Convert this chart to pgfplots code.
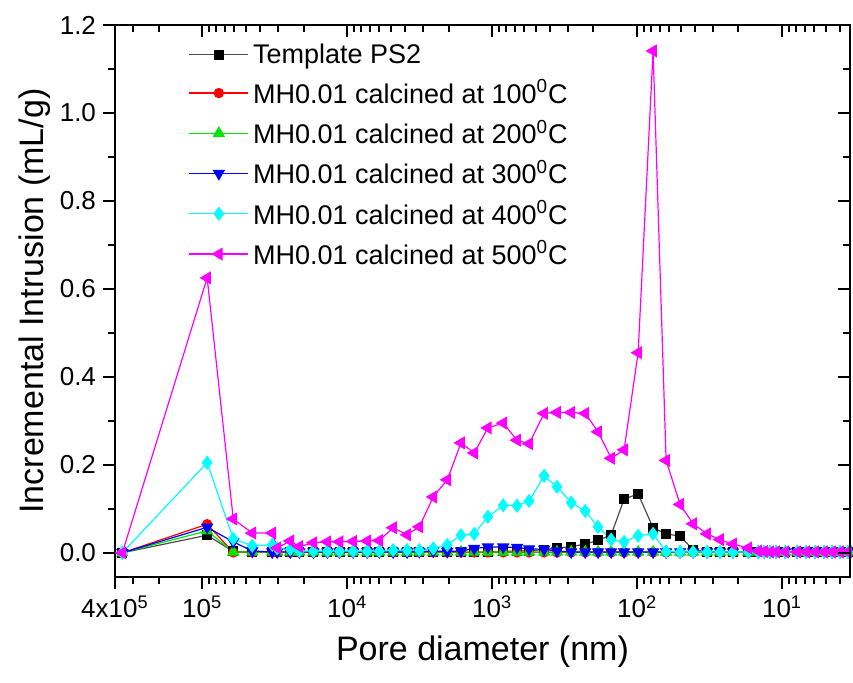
\documentclass[border=0pt]{standalone}
\usepackage{fontspec}
\setmainfont{Liberation Sans}
\usepackage{pgfplots}
\usepackage{pgfplotstable}
\pgfplotsset{compat=1.18}

\definecolor{ored}{RGB}{255,0,0}
\definecolor{ogreen}{RGB}{0,230,0}
\definecolor{oblue}{RGB}{0,0,255}
\definecolor{ocyan}{RGB}{0,255,255}
\definecolor{omag}{RGB}{255,0,255}

% pore diameter (nm) and incremental intrusion (mL/g)
\pgfplotstableread{
x      ps2   t100  t200  t300  t400  t500
356000 0     0     0     0     0     0
92500  0.040 0.065 0.050 0.058 0.205 0.625
61100  0.003 0.001 0.002 0.025 0.032 0.077
45200  0.002 0.001 0.002 0.004 0.016 0.045
32900  0.001 0.001 0.002 0.002 0.018 0.045
30400  0.001 0.001 0.002 0.002 0.010 0.011
24700  0.001 0.001 0.002 0.002 0.008 0.027
21400  0.001 0.001 0.002 0.002 0.004 0.014
17100  0.001 0.001 0.002 0.002 0.004 0.023
13700  0.001 0.001 0.002 0.002 0.004 0.025
11300  0.001 0.001 0.002 0.002 0.004 0.025
9100   0.001 0.001 0.002 0.002 0.004 0.026
7280   0.001 0.001 0.002 0.002 0.004 0.027
6010   0.001 0.001 0.002 0.002 0.004 0.028
4820   0.001 0.001 0.002 0.002 0.006 0.057
3860   0.001 0.001 0.002 0.002 0.006 0.041
3180   0.001 0.001 0.002 0.003 0.006 0.059
2550   0.001 0.001 0.002 0.004 0.010 0.127
2040   0.001 0.001 0.002 0.003 0.018 0.166
1640   0.001 0.001 0.002 0.004 0.040 0.250
1330   0.001 0.001 0.002 0.010 0.043 0.227
1070   0.002 0.001 0.002 0.013 0.082 0.284
839    0.003 0.001 0.002 0.013 0.108 0.295
673    0.004 0.001 0.002 0.012 0.107 0.256
556    0.005 0.001 0.002 0.009 0.118 0.248
438    0.007 0.001 0.002 0.008 0.175 0.317
357    0.011 0.001 0.002 0.004 0.150 0.319
285    0.014 0.001 0.002 0.002 0.114 0.319
228    0.020 0.001 0.002 0.002 0.095 0.317
186    0.028 0.001 0.002 0.002 0.059 0.275
151    0.041 0.001 0.002 0.002 0.030 0.215
123    0.122 0.001 0.002 0.002 0.025 0.234
98.4   0.134 0.001 0.002 0.002 0.039 0.455
77.6   0.057 0.001 0.002 0.002 0.043 1.141
63.1   0.043 0.001 0.002 0.002 0.003 0.210
50.5   0.038 0.001 0.002 0.002 0.002 0.110
41.1   0.007 0.001 0.002 0.002 0.002 0.066
32.9   0.002 0.001 0.002 0.002 0.002 0.043
26.8   0.002 0.001 0.002 0.002 0.002 0.030
21.8   0.002 0.001 0.002 0.002 0.002 0.020
17.1   0.002 0.001 0.002 0.002 0.002 0.011
14.6   0.002 0.001 0.002 0.002 0.002 0.004
13.3   0.002 0.001 0.002 0.002 0.002 0.003
12.1   0.002 0.001 0.002 0.002 0.002 0.002
11.0   0.002 0.001 0.002 0.002 0.002 0.002
9.53   0.002 0.001 0.002 0.002 0.002 0.002
7.88   0.002 0.001 0.002 0.002 0.002 0.002
6.83   0.002 0.001 0.002 0.002 0.002 0.002
5.92   0.002 0.001 0.002 0.002 0.002 0.002
5.13   0.002 0.001 0.002 0.002 0.002 0.002
4.52   0.002 0.001 0.002 0.002 0.002 0.002
3.98   0.002 0.001 0.002 0.002 0.002 0.002
3.51   0.002 0.001 0.002 0.002 0.002 0.002
}\poredata

\pgfplotsset{
  poreframe/.style={
    scale only axis, width=367.5pt, height=276pt,
    xmin=3.4, xmax=4e5,
    ymin=-0.055, ymax=1.2,
    axis line style={line width=1.2pt},
    major tick length=6pt, minor tick length=3.5pt,
    every tick/.style={line width=1pt, black},
    xtick={4e5,1e5,1e4,1e3,1e2,1e1},
    minor xtick={2e5,3e5,2e4,3e4,4e4,5e4,6e4,7e4,8e4,9e4,
      2e3,3e3,4e3,5e3,6e3,7e3,8e3,9e3,200,300,400,500,600,700,800,900,
      20,30,40,50,60,70,80,90,4,5,6,7,8,9},
    ytick={0,0.2,...,1.2}, minor ytick={0.1,0.3,...,1.1},
  },
}

\begin{document}
\begin{tikzpicture}
\begin{axis}[
  xmode=log, x dir=reverse,
  poreframe,
  xtick pos=bottom, ytick pos=left, tick align=outside,
  xticklabels={4x10\textsuperscript{5},10\textsuperscript{5},10\textsuperscript{4},
    10\textsuperscript{3},10\textsuperscript{2},10\textsuperscript{1}},
  yticklabel style={/pgf/number format/.cd,fixed,fixed zerofill,precision=1,assume math mode=true},
  tick label style={font=\fontsize{13}{15}\selectfont},
  xlabel={Pore diameter (nm)}, ylabel={Incremental Intrusion (mL/g)},
  label style={font=\fontsize{17}{20}\selectfont},
  xlabel style={at={(axis description cs:0.5,-0.135)}, anchor=center},
  ylabel style={at={(axis description cs:-0.109,0.5)}, anchor=center},
  legend style={at={(axis description cs:0.097,0.978)}, anchor=north west,
    draw=none, fill=none, font=\fontsize{13.5}{15.5}\selectfont,
    row sep=2.8pt, inner sep=1pt},
  legend cell align=left,
  legend image code/.code={\draw[mark repeat=2,mark phase=2]
    plot coordinates {(0cm,0cm) (0.52cm,0cm) (1.04cm,0cm)};},
]
\coordinate (sw) at (rel axis cs:0,0);
\coordinate (ne) at (rel axis cs:1,1);
\addplot[color=black!70, line width=0.6pt, mark=square*, mark size=2.2pt,
  mark options={solid,fill=black,draw=black}] table[x=x,y=ps2] {\poredata};
\addlegendentry{Template PS2}
\addplot[color=ored, line width=0.6pt, mark=*, mark size=2.3pt,
  mark options={solid,fill=ored,draw=ored}] table[x=x,y=t100] {\poredata};
\addlegendentry{MH0.01 calcined at 100\textsuperscript{0}C}
\addplot[color=ogreen, line width=0.6pt, mark=triangle*, mark size=3pt,
  mark options={solid,fill=ogreen,draw=ogreen}] table[x=x,y=t200] {\poredata};
\addlegendentry{MH0.01 calcined at 200\textsuperscript{0}C}
\addplot[color=oblue, line width=0.6pt, mark=triangle*, mark size=3pt,
  mark options={solid,fill=oblue,draw=oblue,rotate=180}] table[x=x,y=t300] {\poredata};
\addlegendentry{MH0.01 calcined at 300\textsuperscript{0}C}
\addplot[color=ocyan, line width=0.6pt, mark=diamond*, mark size=3.1pt,
  mark options={solid,fill=ocyan,draw=ocyan}] table[x=x,y=t400] {\poredata};
\addlegendentry{MH0.01 calcined at 400\textsuperscript{0}C}
\addplot[color=omag, line width=0.6pt, mark=triangle*, mark size=3.2pt,
  mark options={solid,fill=omag,draw=omag,rotate=90}] table[x=x,y=t500] {\poredata};
\addlegendentry{MH0.01 calcined at 500\textsuperscript{0}C}
\end{axis}
\begin{axis}[
  xmode=log, x dir=reverse,
  poreframe,
  axis x line*=top, axis y line*=right, tick align=inside,
  xticklabels={}, yticklabels={},
]
\addplot[draw=none, forget plot] table[x=x,y=t500] {\poredata};
\end{axis}
\path (sw) ++(-57.5pt,-52.5pt) coordinate (bbsw);
\path (ne) ++(1.5pt,12.5pt) coordinate (bbne);
\pgfresetboundingbox
\path[use as bounding box] (bbsw) rectangle (bbne);
\end{tikzpicture}
\end{document}
